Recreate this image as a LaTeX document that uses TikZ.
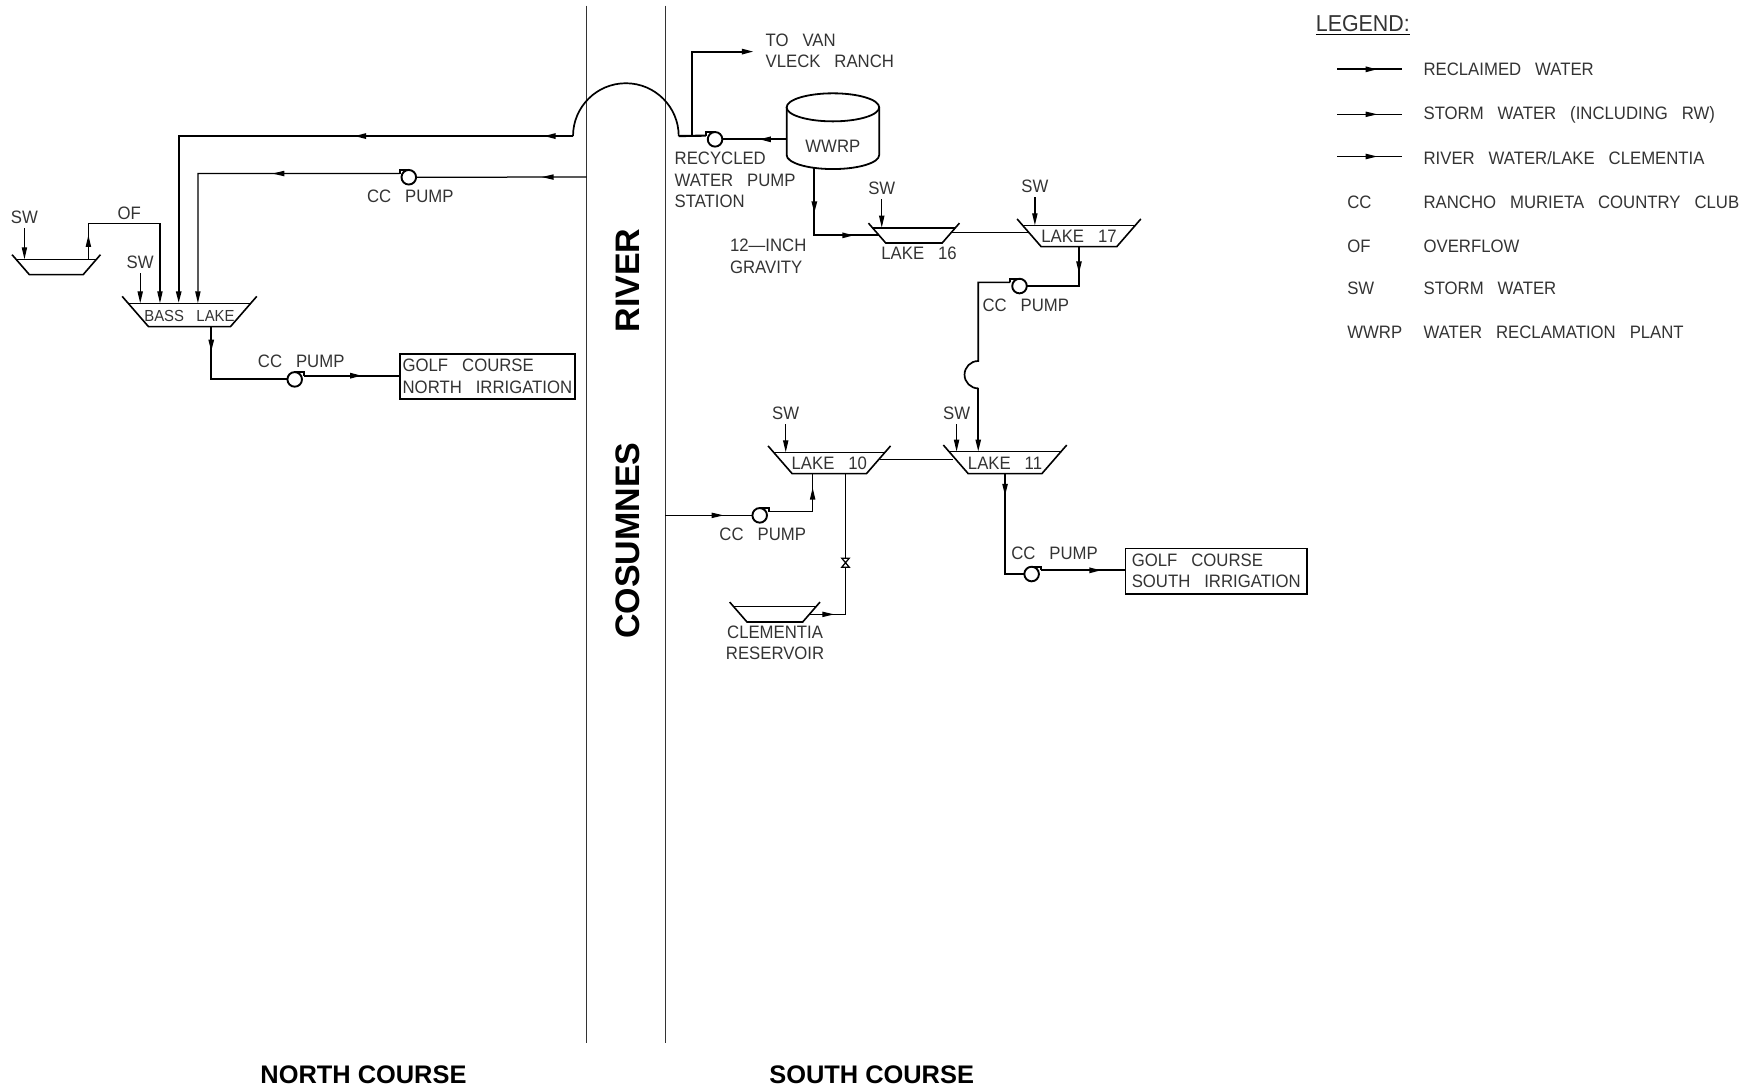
\documentclass[tikz,border=0pt]{standalone}
\usepackage{fontspec}
\setmainfont{Liberation Sans}
\newfontfamily\cadfont[FakeStretch=0.93,WordSpace=3]{Liberation Sans}
\usetikzlibrary{arrows.meta,calc,decorations.markings}

\tikzset{
    flowtip/.tip={Stealth[length=12pt,width=5.2pt,inset=0pt]},
    tipat/.style={postaction={decorate,decoration={markings,mark=at position #1*1.1218pt with {\arrow{flowtip}}}}},
    reclaimed/.style={line width=2.1pt},
    riverline/.style={line width=1.7pt},
    storm/.style={line width=1.25pt},
    bank/.style={line width=1.3pt,black!80},
    lakeline/.style={line width=1.6pt},
    cadtext/.style={font=\fontsize{18}{21.3}\cadfont,text=black!80,inner sep=0pt,outer sep=0pt},
    cad/.style={cadtext,text height=13pt,text depth=0pt},
    swlabel/.style={cad,outer ysep=5pt},
    bigtext/.style={font=\bfseries\fontsize{34}{40}\selectfont,inner sep=0pt},
    coursetext/.style={font=\bfseries\fontsize{25.4}{30}\selectfont,inner sep=0pt},
    golfbox/.style={cadtext,draw=black,line width=1.7pt,align=left,minimum height=45.3pt},
    pics/pump/.style={code={
        \coordinate (-in) at (-6.5,0);
        \coordinate (-out) at (8.2,-3.3);
        \draw[line width=1.9pt] (0,0) circle[radius=6.5];
        \draw[line width=1.9pt] (0,-6.5) -- (8.2,-6.5) -- (8.2,-3.3);
    }},
    pics/valve/.style={code={
        \coordinate (-top) at (0,-4);
        \coordinate (-bot) at (0,4);
        \draw[storm] (-3.3,-4) -- (3.3,-4) -- (-3.3,4) -- (3.3,4) -- cycle;
    }},
}

\newcommand{\lake}[5]{%
    \node[cad,minimum width=#3*1.1218pt,minimum height=#4*1.1218pt] (#1) at (#2) {#5};
    \draw[lakeline] ($(#1.north west)+(-.26*#4,-.3*#4)$) -- ($(#1.south west)+(.87*#4,0)$) -- ($(#1.south east)+(-.87*#4,0)$) -- ($(#1.north east)+(.26*#4,-.3*#4)$);
    \draw[lakeline] (#1.north west) -- (#1.north east);
}

\begin{document}
\begin{tikzpicture}[x=1.1218pt,y=-1.1218pt]
    \useasboundingbox (0,0) rectangle (1568,971);

    % river
    \coordinate (westtop) at (523,5);
    \coordinate (westend) at (523,930);
    \coordinate (easttop) at (593,5);
    \coordinate (eastend) at (593,930);
    \draw[bank] (westtop) -- (westend);
    \draw[bank] (easttop) -- (eastend);
    \node[bigtext,rotate=90] (rivername) at (560,250) {RIVER};
    \node[bigtext,rotate=90] (cosumnes) at (560,482) {COSUMNES};
    \node[coursetext] (northcourse) at (324,958) {NORTH COURSE};
    \node[coursetext] (southcourse) at (777,958) {SOUTH COURSE};

    % lakes
    \lake{pond}{50.15,238}{71.7}{13.7}{}
    \lake{bass}{168.9,280.8}{109.2}{20.8}{\fontsize{16}{20}\cadfont BASS LAKE}
    \lake{lake16}{814.7,209.8}{74}{13.6}{}
    \lake{lake17}{961.8,210.4}{100.4}{19}{LAKE 17}
    \lake{lake10}{739.25,412.7}{99.3}{19}{LAKE 10}
    \lake{lake11}{895.9,412.4}{99.8}{19.6}{LAKE 11}
    \lake{clementia}{690.7,547.65}{73.4}{13.7}{}

    % tank, the node is its body between the two end ellipses
    \node[cad,minimum width=92.5pt,minimum height=47.7pt] (wwrp) at (742.45,116.95) {};
    \node[cad] (wwrplabel) at (742.4,130.2) {WWRP};
    \draw[line width=1.8pt] (wwrp.north) ellipse[x radius=41.25,y radius=12.5];
    \draw[line width=1.8pt] (wwrp.north west) -- (wwrp.south west) arc[start angle=180,end angle=0,x radius=41.25,y radius=12.5] -- (wwrp.north east);

    \node[golfbox,minimum width=175pt] (golfnorth) at (434.5,335.5) {GOLF COURSE\\NORTH IRRIGATION};
    \node[golfbox,minimum width=181.3pt] (golfsouth) at (1084.2,509) {GOLF COURSE\\SOUTH IRRIGATION};

    % pumps
    \pic[xscale=-1] (pumpriver) at (364.4,158) {pump};
    \pic (pumpbass) at (262.7,338.2) {pump};
    \pic[xscale=-1] (pumpwwrp) at (637.4,124.2) {pump};
    \pic[xscale=-1] (pump17) at (908.8,255) {pump};
    \pic (pump10) at (677.2,459.4) {pump};
    \pic (pump11) at (919.6,511.7) {pump};
    \pic (valve) at (753.7,501.6) {valve};

    % storm water
    \node[swlabel] (swpond) at (21.8,193.2) {SW};
    \node[swlabel] (swbass) at (125,233.3) {SW};
    \node[swlabel] (sw16) at (786,167.3) {SW};
    \node[swlabel] (sw17) at (922.5,165.5) {SW};
    \node[swlabel] (sw10) at (700.4,367.8) {SW};
    \node[swlabel] (sw11) at (852.7,367.8) {SW};
    \draw[storm,-flowtip] (swpond.south) -- (swpond.south |- pond.north);
    \draw[storm,-flowtip] (swbass.south) -- (swbass.south |- bass.north);
    \draw[storm,-flowtip] (sw16.south) -- (sw16.south |- lake16.north);
    \draw[storm,-flowtip] (sw17.south) -- (sw17.south |- lake17.north);
    \draw[storm,-flowtip] (sw10.south) -- (sw10.south |- lake10.north);
    \draw[storm,-flowtip] (sw11.south) -- (sw11.south |- lake11.north);

    % north course
    \coordinate (arcwest) at (510.8,121.3);
    \coordinate (arceast) at (605,121.3);
    \coordinate (riverout) at (523,157.8);
    \draw[riverline] (arceast) arc[start angle=0,end angle=-180,radius=47.1];
    \draw[reclaimed,-flowtip,tipat=26.3,tipat=195.2] (arcwest) -- (159.3,121.3) -- (159.3,0 |- bass.north);
    \draw[storm,tipat=40.2] (riverout) -- (pumpriver-in);
    \draw[storm,-flowtip,tipat=113.5] (pumpriver-out) -- (176.4,154.7) -- (176.4,0 |- bass.north);
    \draw[storm,-flowtip,tipat=21.7] (78.8,0 |- pond.north) -- (78.8,199.1) -- (142.6,199.1) -- (142.6,0 |- bass.north);
    \draw[reclaimed,tipat=22.3] (188.3,0 |- bass.south) |- (pumpbass-in);
    \draw[reclaimed,tipat=51.9] (pumpbass-out) -- (pumpbass-out -| golfnorth.west);

    % south course
    \coordinate (wwrpout) at (701.2,124.2);
    \coordinate (wwrpdrain) at (725.9,149.7);
    \coordinate (vleck) at (672,46);
    \draw[reclaimed,tipat=24.7] (wwrpout) -- (pumpwwrp-in);
    \draw[reclaimed] (pumpwwrp-out) -- (arceast);
    \draw[reclaimed,-flowtip] (616.6,0 |- pumpwwrp-out) |- (vleck);
    \draw[reclaimed,tipat=40.5,tipat=95.7] (wwrpdrain) |- ($(lake16.west)+(5.8,0)$);

    \coordinate (link16) at ($(lake16.east)+(-3.7,-2.4)$);
    \draw[storm] (link16) -- ($(link16 -| lake17.west)+(5.4,0)$);
    \coordinate (link10) at ($(lake10.east)+(-4.6,-3.3)$);
    \draw[storm] (link10) -- ($(link10 -| lake11.west)+(3.2,0)$);

    \draw[riverline,tipat=23.8] (lake17.south) |- (pump17-in);
    \coordinate (jogtop) at (872,321.8);
    \draw[riverline] (pump17-out) -| (jogtop) arc[start angle=-90,end angle=-270,radius=12.2];
    \draw[riverline,-flowtip] (872,346.2) -- (872,0 |- lake11.north);

    \coordinate (riverin) at (593,459.4);
    \draw[storm,tipat=52.1] (riverin) -- (pump10-in);
    \draw[storm,tipat=60.5] (pump10-out) -| (724.4,0 |- lake10.south);
    \draw[storm] (753.7,0 |- lake10.south) -- (valve-top);
    \draw[storm,tipat=22.7] ($(clementia.east)+(-6.4,0)$) -| (valve-bot);
    \draw[riverline,tipat=19.8] (lake11.south) |- (pump11-in);
    \draw[reclaimed,tipat=54] (pump11-out) -- (pump11-out -| golfsouth.west);

    % labels
    \node[cad] (oflabel) at (115.3,190.2) {OF};
    \node[cad] (pumplabela) at (365.8,174.7) {CC PUMP};
    \node[cad] (pumplabelb) at (268.5,321.8) {CC PUMP};
    \node[cad] (pumplabelc) at (914.4,271.9) {CC PUMP};
    \node[cad] (pumplabeld) at (679.9,476) {CC PUMP};
    \node[cad] (pumplabele) at (940,492.7) {CC PUMP};
    \node[cadtext,anchor=west,align=left] (vlecklabel) at (682.5,45.3) {TO VAN\\VLECK RANCH};
    \node[cadtext,anchor=west,align=left] (stationlabel) at (601.4,160.3) {RECYCLED\\WATER PUMP\\STATION};
    \node[cadtext,anchor=west,align=left] (gravitylabel) at (650.8,228.6) {12—INCH\\GRAVITY};
    \node[cad] (lake16label) at (819.3,225.9) {LAKE 16};
    \node[cadtext,align=center] (clementialabel) at (690.9,573.3) {CLEMENTIA\\RESERVOIR};

    % legend
    \node[cad,anchor=west,font=\fontsize{23}{27}\cadfont,text height=16.5pt] (legend) at (1173,21) {LEGEND:};
    \draw[storm] ([yshift=-2.5pt]legend.south west) -- ([yshift=-2.5pt]legend.south east);
    \coordinate (keyawest) at (1192,61.8);
    \coordinate (keyaeast) at (1250,61.8);
    \coordinate (keybwest) at (1192,101.9);
    \coordinate (keybeast) at (1250,101.9);
    \coordinate (keycwest) at (1192,139.5);
    \coordinate (keyceast) at (1250,139.5);
    \draw[reclaimed,tipat=36] (keyawest) -- (keyaeast);
    \draw[storm,tipat=36] (keybwest) -- (keybeast);
    \draw[riverline,tipat=36] (keycwest) -- (keyceast);
    \node[cad,anchor=west] (keya) at (1269,61.5) {RECLAIMED WATER};
    \node[cad,anchor=west] (keyb) at (1269,101) {STORM WATER (INCLUDING RW)};
    \node[cad,anchor=west] (keyc) at (1269,141) {RIVER WATER/LAKE CLEMENTIA};
    \node[cad,anchor=west] (abbrcc) at (1201,180) {CC};
    \node[cad,anchor=west] (keycc) at (1269,180) {RANCHO MURIETA COUNTRY CLUB};
    \node[cad,anchor=west] (abbrof) at (1201,219) {OF};
    \node[cad,anchor=west] (keyof) at (1269,219) {OVERFLOW};
    \node[cad,anchor=west] (abbrsw) at (1201,257) {SW};
    \node[cad,anchor=west] (keysw) at (1269,257) {STORM WATER};
    \node[cad,anchor=west] (abbrww) at (1201,296) {WWRP};
    \node[cad,anchor=west] (keyww) at (1269,296) {WATER RECLAMATION PLANT};
\end{tikzpicture}
\end{document}
